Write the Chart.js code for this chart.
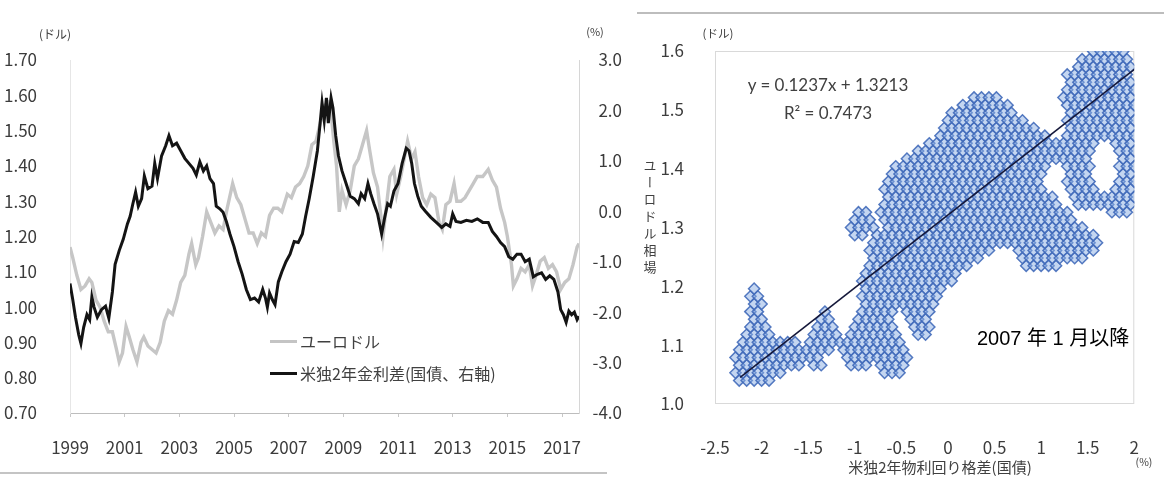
<!DOCTYPE html>
<html lang="ja">
<head>
<meta charset="utf-8">
<title>ユーロドルと米独2年金利差</title>
<script src="https://cdn.jsdelivr.net/npm/chart.js@4.4.1/dist/chart.umd.min.js"></script>
<style>
  html, body { margin: 0; padding: 0; background: #fff; }
  #wrap { position: relative; width: 1164px; height: 479px; overflow: hidden;
          font-family: "Noto Sans CJK JP", "Noto Sans", sans-serif; color: #404040; }
  canvas { position: absolute; top: 0; }
  #left { left: 0; }
  #right { left: 640px; }
  .t { position: absolute; white-space: nowrap; transform: translate(-50%, -50%); line-height: 1; }
  .tl { position: absolute; white-space: nowrap; transform: translate(0, -50%); line-height: 1; }
  .frame { position: absolute; background: #c4c4c4; }
  .vert { position: absolute; writing-mode: vertical-rl; font-size: 13px; letter-spacing: 4px;
          transform: translate(-50%, -50%); line-height: 1; color: #404040; }
  .lgline { position: absolute; height: 0; }
</style>
</head>
<body>
<div id="wrap">
  <canvas id="left" width="640" height="479"></canvas>
  <canvas id="right" width="524" height="479"></canvas>

  <div class="frame" style="left:0;top:472px;width:607px;height:2px;"></div>
  <div class="frame" style="left:637px;top:12px;width:527px;height:2px;background:#bdbdbd;"></div>

  <div class="t" style="left:55px;top:34px;font-size:12px;">(ドル)</div>
  <div class="t" style="left:595px;top:31px;font-size:11px;">(%)</div>

  <div class="lgline" style="left:270px;top:340px;width:27px;border-top:3px solid #c4c4c4;"></div>
  <div class="tl" style="left:300px;top:341px;font-size:16px;">ユーロドル</div>
  <div class="lgline" style="left:270px;top:372px;width:27px;border-top:3px solid #141414;"></div>
  <div class="tl" style="left:300px;top:373px;font-size:16px;">米独2年金利差(国債、右軸)</div>

  <div class="vert" style="left:650px;top:218px;">ユーロドル相場</div>
  <div class="t" style="left:718px;top:34px;font-size:11.5px;">(ドル)</div>
  <div class="t" id="eqText" style="left:828px;top:84px;font-size:17px;font-family:Lato,'Noto Sans',sans-serif;"></div>
  <div class="t" id="r2Text" style="left:828px;top:112px;font-size:17px;font-family:Lato,'Noto Sans',sans-serif;"></div>
  <div class="tl" style="left:977px;top:338px;font-size:20px;color:#000;font-family:'Liberation Sans','Noto Sans CJK JP',sans-serif;">2007 年 1 月以降</div>
  <div class="t" style="left:940px;top:466px;font-size:15px;">米独2年物利回り格差(国債)</div>
  <div class="t" style="left:1144px;top:462px;font-size:10.5px;">(%)</div>
</div>

<script>
// ---- Left panel: euro/dollar (left axis) and US-German 2y spread (right axis) ----
const yearTicks = [1999, 2001, 2003, 2005, 2007, 2009, 2011, 2013, 2015, 2017];
const eurusdTicks = [0.7, 0.8, 0.9, 1.0, 1.1, 1.2, 1.3, 1.4, 1.5, 1.6, 1.7];
const spreadTicks = [-4, -3, -2, -1, 0, 1, 2, 3];

// [year, EUR/USD]
const eurusdSeries = [
  [1999.00,1.17],[1999.10,1.14],[1999.25,1.09],[1999.40,1.05],[1999.55,1.06],[1999.70,1.08],
  [1999.80,1.07],[1999.95,1.02],[2000.10,1.00],[2000.25,0.96],[2000.40,0.93],[2000.55,0.93],
  [2000.70,0.88],[2000.80,0.845],[2000.92,0.87],[2001.05,0.945],[2001.15,0.92],[2001.30,0.88],
  [2001.45,0.845],[2001.60,0.90],[2001.70,0.915],[2001.85,0.89],[2002.00,0.88],[2002.15,0.87],
  [2002.30,0.90],[2002.45,0.96],[2002.60,0.99],[2002.75,0.98],[2002.90,1.02],[2003.05,1.07],
  [2003.20,1.09],[2003.35,1.15],[2003.45,1.18],[2003.60,1.12],[2003.70,1.14],[2003.85,1.20],
  [2004.00,1.27],[2004.15,1.24],[2004.30,1.21],[2004.45,1.23],[2004.60,1.22],[2004.75,1.28],
  [2004.95,1.35],[2005.10,1.31],[2005.25,1.29],[2005.40,1.25],[2005.55,1.21],[2005.70,1.21],
  [2005.85,1.18],[2006.00,1.21],[2006.15,1.20],[2006.30,1.26],[2006.45,1.28],[2006.60,1.28],
  [2006.75,1.27],[2006.95,1.32],[2007.10,1.31],[2007.25,1.34],[2007.40,1.35],[2007.55,1.37],
  [2007.70,1.40],[2007.85,1.46],[2008.00,1.47],[2008.15,1.52],[2008.30,1.57],[2008.45,1.58],
  [2008.55,1.55],[2008.65,1.47],[2008.75,1.40],[2008.85,1.27],[2008.95,1.33],[2009.10,1.29],
  [2009.25,1.33],[2009.40,1.40],[2009.55,1.42],[2009.70,1.46],[2009.85,1.50],[2009.95,1.45],
  [2010.10,1.38],[2010.25,1.34],[2010.40,1.24],[2010.45,1.20],[2010.55,1.27],[2010.70,1.37],
  [2010.85,1.39],[2010.95,1.32],[2011.10,1.37],[2011.25,1.43],[2011.35,1.47],[2011.50,1.42],
  [2011.62,1.44],[2011.75,1.37],[2011.90,1.31],[2012.05,1.29],[2012.20,1.32],[2012.35,1.31],
  [2012.50,1.24],[2012.62,1.22],[2012.75,1.29],[2012.90,1.30],[2013.05,1.35],[2013.15,1.30],
  [2013.30,1.30],[2013.45,1.31],[2013.60,1.33],[2013.75,1.35],[2013.90,1.37],[2014.10,1.37],
  [2014.30,1.39],[2014.45,1.36],[2014.60,1.34],[2014.75,1.28],[2014.90,1.24],[2015.00,1.20],
  [2015.15,1.12],[2015.22,1.06],[2015.35,1.08],[2015.50,1.11],[2015.65,1.10],[2015.80,1.12],
  [2015.92,1.06],[2016.05,1.09],[2016.20,1.13],[2016.35,1.14],[2016.50,1.11],[2016.65,1.12],
  [2016.80,1.10],[2016.95,1.05],[2017.10,1.07],[2017.25,1.08],[2017.40,1.12],[2017.55,1.17],
  [2017.62,1.18]
];

// [year, spread %]
const spreadSeries = [
  [1999.00,-1.43],[1999.10,-1.75],[1999.20,-2.10],[1999.32,-2.45],[1999.40,-2.62],[1999.50,-2.30],
  [1999.62,-2.05],[1999.72,-2.15],[1999.80,-1.70],[1999.88,-1.90],[2000.00,-2.10],[2000.15,-1.95],
  [2000.30,-1.88],[2000.42,-2.12],[2000.55,-1.60],[2000.65,-1.05],[2000.80,-0.78],[2000.95,-0.55],
  [2001.10,-0.25],[2001.20,-0.10],[2001.30,0.15],[2001.40,0.38],[2001.50,0.10],[2001.62,0.25],
  [2001.72,0.70],[2001.85,0.45],[2002.00,0.50],[2002.10,0.95],[2002.20,0.65],[2002.35,1.10],
  [2002.50,1.30],[2002.62,1.50],[2002.75,1.30],[2002.90,1.35],[2003.05,1.20],[2003.20,1.05],
  [2003.35,0.95],[2003.50,0.85],[2003.62,0.72],[2003.75,0.98],[2003.88,0.80],[2004.00,0.90],
  [2004.12,0.65],[2004.25,0.55],[2004.35,0.10],[2004.48,0.05],[2004.60,-0.02],[2004.72,-0.20],
  [2004.85,-0.45],[2005.00,-0.70],[2005.15,-1.00],[2005.30,-1.25],[2005.45,-1.55],[2005.60,-1.75],
  [2005.75,-1.72],[2005.90,-1.80],[2006.05,-1.55],[2006.15,-1.72],[2006.22,-1.90],[2006.30,-1.62],
  [2006.40,-1.75],[2006.50,-1.85],[2006.62,-1.40],[2006.75,-1.20],[2006.90,-1.00],[2007.05,-0.85],
  [2007.20,-0.60],[2007.35,-0.62],[2007.50,-0.45],[2007.62,-0.10],[2007.75,0.25],[2007.90,0.70],
  [2008.05,1.20],[2008.15,1.75],[2008.22,2.15],[2008.30,1.80],[2008.38,2.25],[2008.45,1.75],
  [2008.55,2.25],[2008.62,2.05],[2008.72,1.50],[2008.82,1.10],[2008.95,0.80],[2009.10,0.55],
  [2009.25,0.30],[2009.40,0.25],[2009.55,0.15],[2009.65,0.35],[2009.78,0.25],[2009.90,0.55],
  [2010.00,0.35],[2010.12,0.15],[2010.25,-0.05],[2010.40,-0.45],[2010.52,-0.10],[2010.62,0.15],
  [2010.72,0.10],[2010.85,0.40],[2011.00,0.55],[2011.15,0.95],[2011.30,1.25],[2011.40,1.20],
  [2011.50,0.95],[2011.60,0.55],[2011.72,0.30],[2011.85,0.10],[2012.00,0.00],[2012.20,-0.12],
  [2012.40,-0.22],[2012.60,-0.32],[2012.75,-0.25],[2012.90,-0.30],[2013.00,-0.05],[2013.12,-0.20],
  [2013.30,-0.22],[2013.50,-0.18],[2013.70,-0.20],[2013.90,-0.15],[2014.10,-0.22],[2014.30,-0.22],
  [2014.45,-0.40],[2014.60,-0.50],[2014.75,-0.62],[2014.90,-0.70],[2015.05,-0.90],[2015.20,-0.95],
  [2015.35,-0.85],[2015.50,-0.85],[2015.65,-1.00],[2015.80,-0.95],[2015.95,-1.30],[2016.10,-1.25],
  [2016.25,-1.22],[2016.40,-1.35],[2016.55,-1.28],[2016.70,-1.35],[2016.85,-1.60],[2016.95,-1.95],
  [2017.05,-2.05],[2017.15,-2.20],[2017.25,-1.98],[2017.35,-2.05],[2017.45,-2.00],[2017.55,-2.15],
  [2017.62,-2.08]
];

// ---- Right panel: spread (x) vs EUR/USD (y) since Jan 2007 ----
const scatterXTicks = [-2.5, -2, -1.5, -1, -0.5, 0, 0.5, 1, 1.5, 2];
const scatterYTicks = [1.0, 1.1, 1.2, 1.3, 1.4, 1.5, 1.6];
const trendSlope = 0.1237;
const trendIntercept = 1.3213;
const trendR2 = 0.7473;
const trendXRange = [-2.23, 2.0];

// observations grouped by EUR/USD level: one y per row, the spreads seen at that level
const scatterRowY = [
  1.040,1.053,1.066,1.079,1.092,1.105,1.118,1.131,1.144,1.157,1.170,1.183,1.196,1.209,1.222,
  1.235,1.248,1.261,1.274,1.287,1.300,1.313,1.326,1.339,1.352,1.365,1.378,1.391,1.404,1.417,
  1.430,1.443,1.456,1.469,1.482,1.495,1.508,1.521,1.534,1.547,1.560,1.573,1.586,1.599
];
const scatterRowX = [
  [-2.24,-2.16,-2.08,-2,-1.92],
  [-2.28,-2.2,-2.12,-2.04,-1.96,-1.88,-1.8,-0.68,-0.6,-0.52],
  [-2.24,-2.16,-2.08,-2,-1.92,-1.84,-1.76,-1.68,-1.6,-1.44,-1.36,-1.04,-0.96,-0.88,-0.72,-0.64,-0.56,-0.48],
  [-2.28,-2.2,-2.12,-2.04,-1.96,-1.88,-1.8,-1.72,-1.64,-1.56,-1.48,-1.4,-1.08,-1,-0.92,-0.84,-0.76,-0.68,-0.6,-0.52,-0.44],
  [-2.24,-2.16,-2.08,-2,-1.92,-1.84,-1.76,-1.68,-1.6,-1.52,-1.44,-1.36,-1.28,-1.12,-1.04,-0.96,-0.88,-0.8,-0.72,-0.64,-0.56,-0.48],
  [-2.2,-2.12,-2.04,-1.96,-1.88,-1.8,-1.72,-1.64,-1.48,-1.4,-1.32,-1.24,-1.16,-1.08,-1,-0.92,-0.84,-0.76,-0.68,-0.6,-0.52],
  [-2.16,-2.08,-2,-1.92,-1.44,-1.36,-1.28,-1.2,-1.04,-0.96,-0.88,-0.8,-0.72,-0.64,-0.56,-0.32,-0.24],
  [-2.12,-2.04,-1.96,-1.4,-1.32,-1.24,-1,-0.92,-0.84,-0.76,-0.68,-0.6,-0.36,-0.28,-0.2],
  [-2.08,-2,-1.36,-1.28,-0.96,-0.88,-0.8,-0.72,-0.64,-0.4,-0.32,-0.24],
  [-2.12,-2.04,-1.32,-0.92,-0.84,-0.76,-0.68,-0.6,-0.44,-0.36,-0.28,-0.2],
  [-2.08,-2,-0.88,-0.8,-0.72,-0.64,-0.56,-0.48,-0.4,-0.32,-0.24,-0.16],
  [-2.12,-2.04,-0.92,-0.84,-0.76,-0.68,-0.6,-0.52,-0.44,-0.36,-0.28,-0.2,-0.12],
  [-2.08,-0.88,-0.8,-0.72,-0.64,-0.56,-0.48,-0.4,-0.32,-0.24,-0.16,-0.08],
  [-0.92,-0.84,-0.76,-0.68,-0.6,-0.52,-0.44,-0.36,-0.28,-0.2,-0.12,-0.04,0.04],
  [-0.88,-0.8,-0.72,-0.64,-0.56,-0.48,-0.4,-0.32,-0.24,-0.16,-0.08,0,0.08],
  [-0.84,-0.76,-0.68,-0.6,-0.52,-0.44,-0.36,-0.28,-0.2,-0.12,-0.04,0.04,0.12,0.2,0.84,0.92,1,1.08,1.16],
  [-0.8,-0.72,-0.64,-0.56,-0.48,-0.4,-0.32,-0.24,-0.16,-0.08,0,0.08,0.16,0.24,0.32,0.8,0.88,0.96,1.04,1.12,1.2,1.28,1.36,1.44],
  [-0.84,-0.76,-0.68,-0.6,-0.52,-0.44,-0.36,-0.28,-0.2,-0.12,-0.04,0.04,0.12,0.2,0.28,0.36,0.44,0.76,0.84,0.92,1,1.08,1.16,1.24,1.32,1.4,1.48,1.56],
  [-0.8,-0.72,-0.64,-0.56,-0.48,-0.4,-0.32,-0.24,-0.16,-0.08,0,0.08,0.16,0.24,0.32,0.4,0.48,0.56,0.64,0.72,0.8,0.88,0.96,1.04,1.12,1.2,1.28,1.36,1.44,1.52,1.6],
  [-1,-0.92,-0.76,-0.68,-0.6,-0.52,-0.44,-0.36,-0.28,-0.2,-0.12,-0.04,0.04,0.12,0.2,0.28,0.36,0.44,0.52,0.6,0.68,0.76,0.84,0.92,1,1.08,1.16,1.24,1.32,1.4,1.48,1.56],
  [-1.04,-0.96,-0.88,-0.8,-0.64,-0.56,-0.48,-0.4,-0.32,-0.24,-0.16,-0.08,0,0.08,0.16,0.24,0.32,0.4,0.48,0.56,0.64,0.72,0.8,0.88,0.96,1.04,1.12,1.2,1.28,1.36,1.44],
  [-1,-0.92,-0.84,-0.68,-0.6,-0.52,-0.44,-0.36,-0.28,-0.2,-0.12,-0.04,0.04,0.12,0.2,0.28,0.36,0.44,0.52,0.6,0.68,0.76,0.84,0.92,1,1.08,1.16,1.24,1.32],
  [-0.96,-0.88,-0.72,-0.64,-0.56,-0.48,-0.4,-0.32,-0.24,-0.16,-0.08,0,0.08,0.16,0.24,0.32,0.4,0.48,0.56,0.64,0.72,0.8,0.88,0.96,1.04,1.12,1.2,1.28,1.76,1.84,1.92],
  [-0.68,-0.6,-0.52,-0.44,-0.36,-0.28,-0.2,-0.12,-0.04,0.04,0.12,0.2,0.28,0.36,0.44,0.52,0.6,0.68,0.76,0.84,0.92,1,1.08,1.16,1.4,1.48,1.56,1.64,1.72,1.8,1.88,1.96],
  [-0.64,-0.56,-0.48,-0.4,-0.32,-0.24,-0.16,-0.08,0,0.08,0.16,0.24,0.32,0.4,0.48,0.56,0.64,0.72,0.8,0.88,0.96,1.04,1.12,1.36,1.44,1.52,1.6,1.68,1.76,1.84,1.92,2],
  [-0.68,-0.6,-0.52,-0.44,-0.36,-0.28,-0.2,-0.12,-0.04,0.04,0.12,0.2,0.28,0.36,0.44,0.52,0.6,0.68,0.76,0.84,0.92,1,1.32,1.4,1.48,1.56,1.8,1.88,1.96],
  [-0.64,-0.56,-0.48,-0.4,-0.32,-0.24,-0.16,-0.08,0,0.08,0.16,0.24,0.32,0.4,0.48,0.56,0.64,0.72,0.8,0.88,0.96,1.28,1.36,1.44,1.52,1.84,1.92,2],
  [-0.6,-0.52,-0.44,-0.36,-0.28,-0.2,-0.12,-0.04,0.04,0.12,0.2,0.28,0.36,0.44,0.52,0.6,0.68,0.76,0.84,0.92,1,1.32,1.4,1.48,1.88,1.96],
  [-0.56,-0.48,-0.4,-0.32,-0.24,-0.16,-0.08,0,0.08,0.16,0.24,0.32,0.4,0.48,0.56,0.64,0.72,0.8,0.88,0.96,1.04,1.28,1.36,1.44,1.52,1.84,1.92,2],
  [-0.44,-0.36,-0.28,-0.2,-0.12,-0.04,0.04,0.12,0.2,0.28,0.36,0.44,0.52,0.6,0.68,0.76,0.84,0.92,1,1.08,1.16,1.24,1.32,1.4,1.48,1.88,1.96],
  [-0.32,-0.24,-0.16,-0.08,0,0.08,0.16,0.24,0.32,0.4,0.48,0.56,0.64,0.72,0.8,0.88,0.96,1.04,1.12,1.2,1.28,1.36,1.44,1.52,1.84,1.92,2],
  [-0.2,-0.12,-0.04,0.04,0.12,0.2,0.28,0.36,0.44,0.52,0.6,0.68,0.76,0.84,0.92,1,1.08,1.16,1.24,1.32,1.4,1.48,1.56,1.8,1.88,1.96],
  [-0.08,0,0.08,0.16,0.24,0.32,0.4,0.48,0.56,0.64,0.72,0.8,0.88,0.96,1.04,1.28,1.36,1.44,1.52,1.6,1.68,1.76,1.84,1.92,2],
  [-0.04,0.04,0.12,0.2,0.28,0.36,0.44,0.52,0.6,0.68,0.76,0.84,0.92,1.32,1.4,1.48,1.56,1.64,1.72,1.8,1.88,1.96],
  [0,0.08,0.16,0.24,0.32,0.4,0.48,0.56,0.64,0.72,0.8,1.28,1.36,1.44,1.52,1.6,1.68,1.76,1.84,1.92,2],
  [0.04,0.12,0.2,0.28,0.36,0.44,0.52,0.6,0.68,1.32,1.4,1.48,1.56,1.64,1.72,1.8,1.88,1.96],
  [0.16,0.24,0.32,0.4,0.48,0.56,0.64,1.28,1.36,1.44,1.52,1.6,1.68,1.76,1.84,1.92,2],
  [0.28,0.36,0.44,0.52,1.24,1.32,1.4,1.48,1.56,1.64,1.72,1.8,1.88,1.96],
  [1.28,1.36,1.44,1.52,1.6,1.68,1.76,1.84,1.92,2],
  [1.32,1.4,1.48,1.56,1.64,1.72,1.8,1.88,1.96],
  [1.28,1.36,1.44,1.52,1.6,1.68,1.76,1.84,1.92],
  [1.4,1.48,1.56,1.64,1.72,1.8,1.88,1.96],
  [1.44,1.52,1.6,1.68,1.76,1.84,1.92],
  [1.56,1.64,1.72,1.8,1.88]
];

// ---- shared styling ----
const FONT = '"Noto Sans CJK JP", "Noto Sans", sans-serif';
const TICK_COLOR = '#3c3c3c';

function fixedTicks(values) {
  return (scale) => { scale.ticks = values.map(v => ({ value: v })); };
}

// ---- left chart ----
new Chart(document.getElementById('left'), {
  type: 'line',
  data: {
    datasets: [
      {
        label: '米独2年金利差(国債、右軸)',
        data: spreadSeries.map(([x, y]) => ({ x, y })),
        yAxisID: 'y1',
        borderColor: '#141414',
        borderWidth: 3,
        pointRadius: 0,
        tension: 0,
        order: 0
      },
      {
        label: 'ユーロドル',
        data: eurusdSeries.map(([x, y]) => ({ x, y })),
        yAxisID: 'y',
        borderColor: '#c6c6c6',
        borderWidth: 3.4,
        pointRadius: 0,
        tension: 0,
        order: 1
      }
    ]
  },
  options: {
    responsive: false,
    animation: false,
    devicePixelRatio: 1,
    layout: { padding: { top: 60, left: 0, right: 18, bottom: 0 } },
    plugins: { legend: { display: false }, tooltip: { enabled: false } },
    scales: {
      x: {
        type: 'linear',
        min: 1999,
        max: 2017.62,
        afterBuildTicks: fixedTicks(yearTicks),
        afterFit: (s) => { s.height = 66; },
        ticks: { callback: (v) => String(v), color: TICK_COLOR, font: { family: FONT, size: 17 },
                 padding: 20, maxRotation: 0, autoSkip: false },
        grid: { drawOnChartArea: false, drawTicks: true, tickLength: 4, color: '#c8c8c8' },
        border: { color: '#bdbdbd', width: 1 }
      },
      y: {
        position: 'left',
        min: 0.7,
        max: 1.7,
        afterBuildTicks: fixedTicks(eurusdTicks),
        afterFit: (s) => { s.width = 70; },
        ticks: { callback: (v) => Number(v).toFixed(2), color: TICK_COLOR,
                 font: { family: FONT, size: 17 }, padding: 25 },
        grid: { display: false },
        border: { color: '#e6e6e6', width: 1 }
      },
      y1: {
        position: 'right',
        min: -4,
        max: 3,
        afterBuildTicks: fixedTicks(spreadTicks),
        afterFit: (s) => { s.width = 43; },
        ticks: { callback: (v) => Number(v).toFixed(1), color: TICK_COLOR,
                 font: { family: FONT, size: 17 }, crossAlign: 'far', padding: 8 },
        grid: { display: false },
        border: { color: '#d6d6d6', width: 1 }
      }
    }
  }
});

// ---- right chart ----
const scatterPoints = [];
scatterRowY.forEach((y, i) => scatterRowX[i].forEach(x => scatterPoints.push({ x, y })));

const trendPoints = trendXRange.map(x => ({ x, y: trendSlope * x + trendIntercept }));
document.getElementById('eqText').textContent =
  'y = ' + trendSlope.toFixed(4) + 'x + ' + trendIntercept.toFixed(4);
document.getElementById('r2Text').textContent = 'R\u00B2 = ' + trendR2.toFixed(4);

const plotFrame = {
  id: 'plotFrame',
  beforeDatasetsDraw(chart) {
    const { ctx, chartArea: a } = chart;
    ctx.save();
    ctx.strokeStyle = '#d9d9d9';
    ctx.lineWidth = 1;
    ctx.strokeRect(a.left + 0.5, a.top + 0.5, a.width - 1, a.height - 1);
    ctx.restore();
  }
};

new Chart(document.getElementById('right'), {
  type: 'scatter',
  data: {
    datasets: [
      {
        label: '近似直線',
        data: trendPoints,
        showLine: true,
        borderColor: '#15183a',
        borderWidth: 1.6,
        pointRadius: 0,
        order: 0
      },
      {
        label: 'ユーロドル相場',
        data: scatterPoints,
        pointStyle: 'rectRot',
        pointRadius: 5.6,
        borderWidth: 1.5,
        borderColor: 'rgba(66,108,186,0.9)',
        backgroundColor: 'rgba(138,174,228,0.5)',
        order: 1
      }
    ]
  },
  plugins: [plotFrame],
  options: {
    responsive: false,
    animation: false,
    devicePixelRatio: 1,
    layout: { padding: { top: 51, left: 0, right: 7, bottom: 0 } },
    plugins: { legend: { display: false }, tooltip: { enabled: false } },
    scales: {
      x: {
        type: 'linear',
        min: -2.5,
        max: 2,
        afterBuildTicks: fixedTicks(scatterXTicks),
        afterFit: (s) => { s.height = 75; },
        ticks: { callback: (v) => String(v), color: TICK_COLOR, font: { family: FONT, size: 17 },
                 padding: 25, maxRotation: 0, autoSkip: false },
        grid: { display: false },
        border: { display: false }
      },
      y: {
        min: 1.0,
        max: 1.6,
        afterBuildTicks: fixedTicks(scatterYTicks),
        afterFit: (s) => { s.width = 75; },
        ticks: { callback: (v) => Number(v).toFixed(1), color: TICK_COLOR,
                 font: { family: FONT, size: 17 }, padding: 23 },
        grid: { display: false },
        border: { display: false }
      }
    }
  }
});
</script>
</body>
</html>
